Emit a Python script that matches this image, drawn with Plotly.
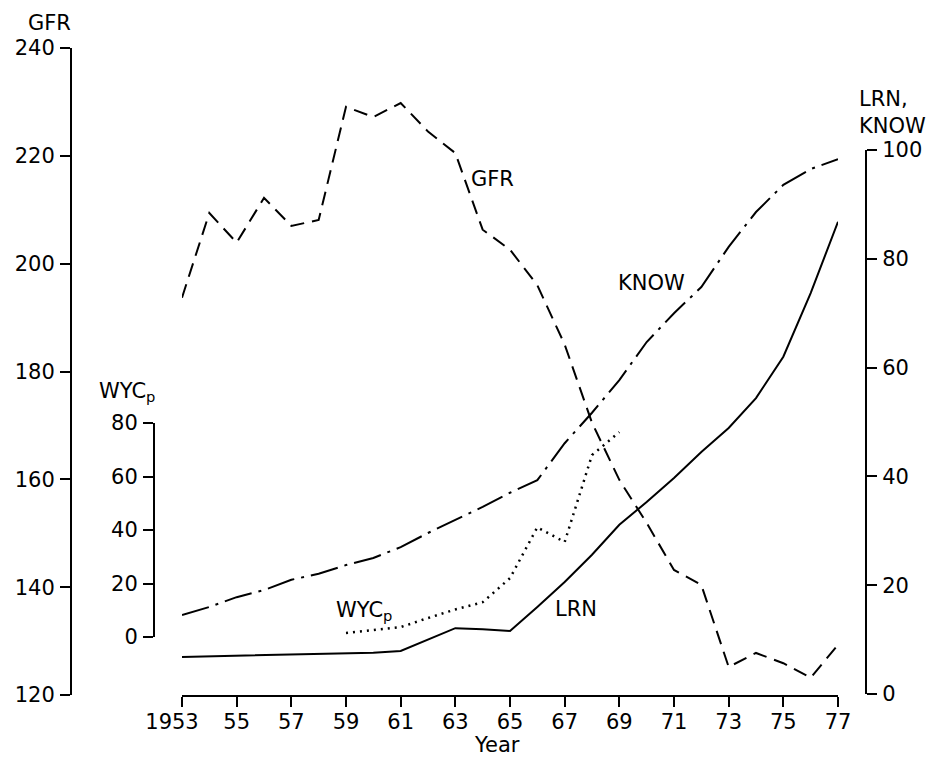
import plotly.graph_objects as go

# Page offset: the browser body has an 8px margin, so the figure is drawn
# at (8, 8). The figure is sized so that it ends exactly at the window edges.
OFF = 8
W, H = 934 - OFF, 757 - OFF

years = list(range(1953, 1978))
gfr = [193.7, 209.4, 203.9, 212.2, 207.0, 208.1, 229.1, 227.2, 229.8, 224.5,
       220.5, 206.3, 202.6, 196.0, 185.0, 170.5, 159.9, 151.9, 143.2, 140.4,
       125.2, 127.8, 125.9, 123.2, 129.3]
know = [14.5, 16.0, 17.8, 19.1, 21.0, 22.1, 23.7, 25.0, 27.0, 29.6,
        32.0, 34.4, 37.0, 39.3, 46.1, 51.7, 57.7, 64.7, 70.0, 74.8,
        82.2, 88.6, 93.6, 96.5, 98.3]
lrn = [6.8, 6.9, 7.0, 7.1, 7.2, 7.3, 7.4, 7.6, 7.9, 10.0,
       12.1, 11.9, 11.6, 16.0, 20.6, 25.6, 31.1, 35.3, 39.7, 44.5,
       48.9, 54.4, 62.0, 73.7, 86.8]
wyc_years = list(range(1959, 1970))
wyc = [1.5, 2.6, 3.7, 7.1, 10.3, 13.0, 22.0, 41.0, 35.5, 68.0, 76.6]

x_ticks = list(range(1953, 1978, 2))
x_ticktext = ["1953\u00a0\u00a0\u00a0"] + [str(y % 100) for y in x_ticks[1:]]
gfr_ticks = [120, 140, 160, 180, 200, 220, 240]
right_ticks = [0, 20, 40, 60, 80, 100]
wyc_ticks = [0, 20, 40, 60, 80]

FONT = "DejaVu Sans, Liberation Sans, Arial, sans-serif"
FS = 21


def px(xp):
    return (xp - OFF) / W


def py(yp):
    return (H - (yp - OFF)) / H


fig = go.Figure()
fig.add_trace(go.Scatter(x=years, y=gfr, mode="lines", xaxis="x", yaxis="y",
                         line=dict(color="black", width=2, dash="14px,8px"),
                         name="GFR"))
fig.add_trace(go.Scatter(x=years, y=know, mode="lines", xaxis="x", yaxis="y2",
                         line=dict(color="black", width=2, dash="28px,7px,3px,7px"),
                         name="KNOW"))
fig.add_trace(go.Scatter(x=years, y=lrn, mode="lines", xaxis="x", yaxis="y2",
                         line=dict(color="black", width=2),
                         name="LRN"))
fig.add_trace(go.Scatter(x=wyc_years, y=wyc, mode="lines", xaxis="x", yaxis="y3",
                         line=dict(color="black", width=2.5, dash="2px,5px"),
                         name="WYCp"))

axis_common = dict(showgrid=False, zeroline=False, showline=True, linecolor="black",
                   linewidth=2, ticks="outside", ticklen=10, tickwidth=2,
                   tickcolor="black", automargin=False,
                   tickfont=dict(family=FONT, size=FS, color="black"))

fig.update_layout(
    width=W, height=H,
    margin=dict(l=0, r=0, t=0, b=0),
    paper_bgcolor="white", plot_bgcolor="rgba(0,0,0,0)",
    showlegend=False,
    font=dict(family=FONT, size=FS, color="black"),
    xaxis=dict(domain=[px(182), px(838)], range=[1953, 1977], anchor="free",
               position=py(696), tickvals=x_ticks, ticktext=x_ticktext,
               ticklabelstandoff=-3, **axis_common),
    yaxis=dict(domain=[py(695), py(48)], range=[120, 240], anchor="free",
               position=px(71), side="left", tickvals=gfr_ticks, ticklabelstandoff=1,
               **axis_common),
    yaxis2=dict(domain=[py(694), py(150)], range=[0, 100], anchor="free",
                position=px(866), side="right", tickvals=right_ticks,
                ticklabelstandoff=1, **axis_common),
    yaxis3=dict(domain=[py(637), py(423)], range=[0, 80], anchor="free",
                position=px(154), side="left", tickvals=wyc_ticks,
                ticklabelstandoff=1, **axis_common),
)

ann = dict(showarrow=False, xref="paper", yref="paper",
           font=dict(family=FONT, size=FS, color="black"))
fig.add_annotation(text="GFR", x=px(73), y=py(23), xanchor="right", yanchor="middle", **ann)
fig.add_annotation(text="WYC<sub>p</sub>", x=px(97), y=py(392), xanchor="left", yanchor="middle", **ann)
fig.add_annotation(text="LRN,<br>KNOW", x=px(857), y=py(112), xanchor="left", yanchor="middle",
                   align="left", **ann)
fig.add_annotation(text="Year", x=px(497), y=py(745), xanchor="center", yanchor="middle", **ann)
fig.add_annotation(text="GFR", x=px(469), y=py(179), xanchor="left", yanchor="middle", **ann)
fig.add_annotation(text="KNOW", x=px(616), y=py(283), xanchor="left", yanchor="middle", **ann)
fig.add_annotation(text="LRN", x=px(553), y=py(609), xanchor="left", yanchor="middle", **ann)
fig.add_annotation(text="WYC<sub>p</sub>", x=px(334), y=py(611), xanchor="left", yanchor="middle", **ann)

fig.write_html("out.html")
